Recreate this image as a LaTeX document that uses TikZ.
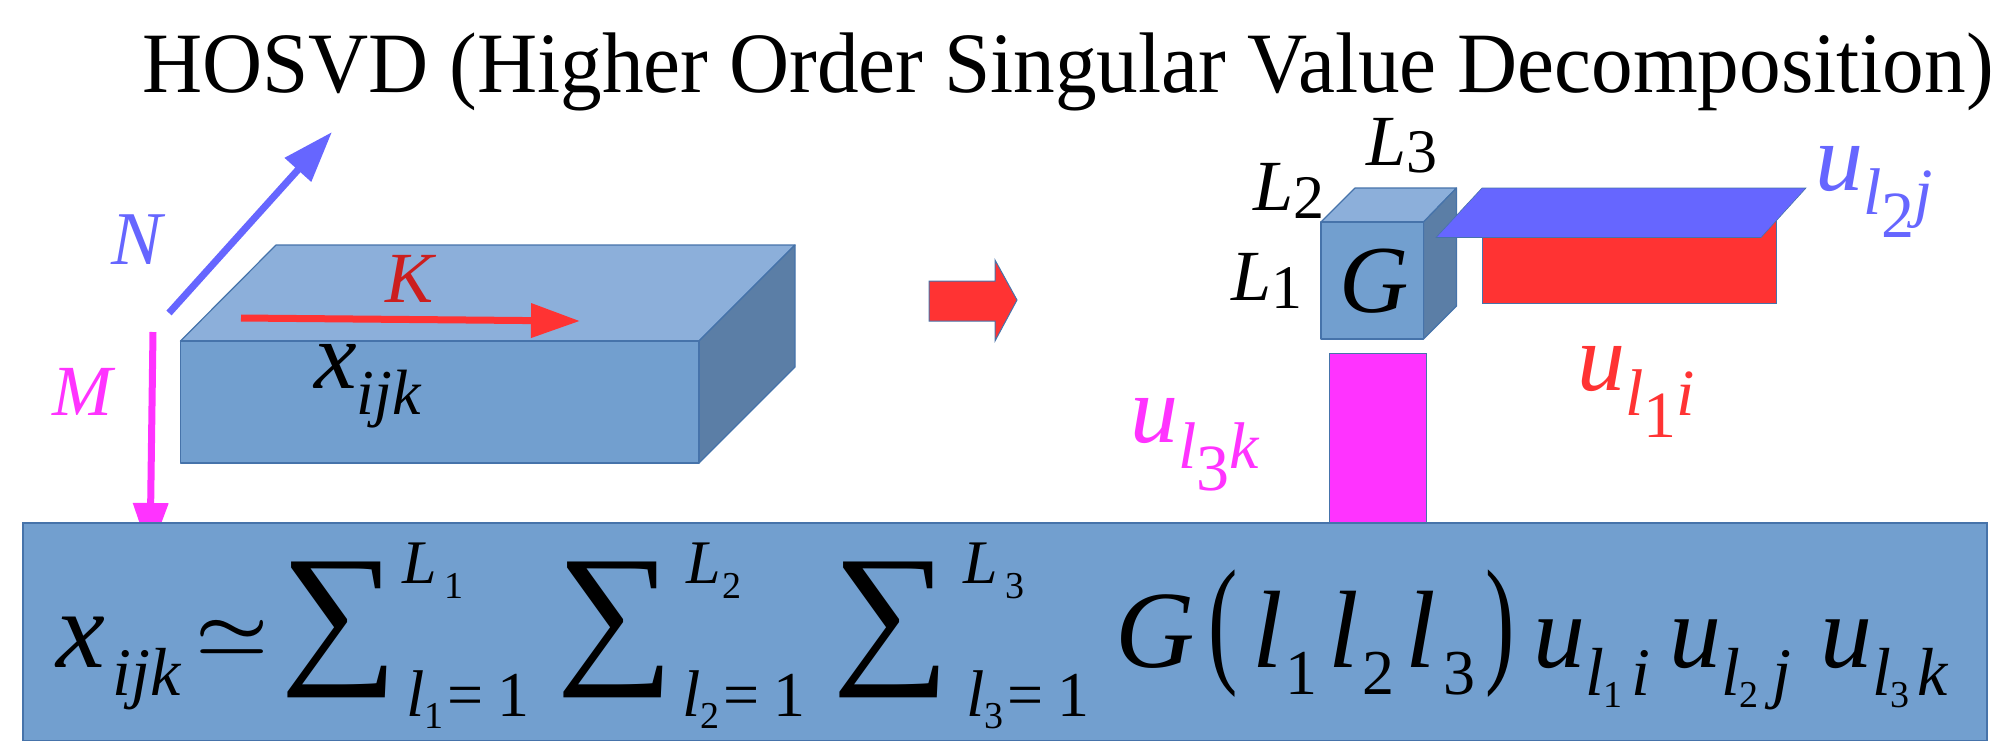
\documentclass[tikz,border=0pt]{standalone}
\usepackage{fontspec}
\setmainfont{Liberation Serif}
\usetikzlibrary{arrows.meta}
\definecolor{front}{RGB}{114,159,207}
\definecolor{topf}{RGB}{140,175,218}
\definecolor{sidef}{RGB}{91,126,166}
\definecolor{edgeb}{RGB}{70,115,170}
\definecolor{vblue}{RGB}{102,102,255}
\definecolor{vred}{RGB}{255,51,51}
\definecolor{vmag}{RGB}{255,51,255}
\definecolor{kred}{RGB}{204,30,30}
\newcommand\fsz[1]{\fontsize{#1}{#1}\selectfont}
\newcommand\rs[3]{\raisebox{#1pt}{\fsz{#2}#3}}
\newcommand\bigsum{\scalebox{1.14}[1.08]{\fsz{145}\upshape ∑}}
\tikzset{
  x=1pt,y=-1pt,
  txt/.style={anchor=base west,inner sep=0pt,outer sep=0pt,font=\itshape},
  face/.style={draw=edgeb,line width=1.2pt,line join=round},
  vecline/.style={line width=7pt},
}
\begin{document}
\begin{tikzpicture}
\useasboundingbox (0,0) rectangle (2005,740);
% title
\node[txt,font=\upshape] (title) at (142,92) {\scalebox{0.968}[1]{\fsz{86}HOSVD (Higher Order Singular Value Decomposition)}};
% big cuboid
\draw[face,fill=topf] (180.5,341) -- (276,245) -- (795,245) -- (699,341) -- cycle;
\draw[face,fill=sidef] (699,341) -- (795,245) -- (795,367) -- (699,463) -- cycle;
\draw[face,fill=front] (180.5,341) rectangle (699,463);
% vectors
\coordinate (nS) at (169,313);
\coordinate (nE) at (332,132);
\coordinate (mS) at (153,332);
\coordinate (mE) at (150,554);
\coordinate (kS) at (241,318);
\coordinate (kE) at (580,321);
\draw[vecline,vblue,-{Triangle[length=51pt,width=34pt]}] (nS) -- (nE);
\draw[vecline,vmag,-{Triangle[length=51pt,width=34pt]}] (mS) -- (mE);
\draw[vecline,vred,-{Triangle[length=49pt,width=33pt]}] (kS) -- (kE);
\node[txt,text=vblue] (labN) at (111,264) {\fsz{76}N};
\node[txt,text=kred] (labK) at (385,302) {\fsz{72}K};
\node[txt,text=vmag] (labM) at (52,415) {\fsz{72}M};
\node[txt] (labx) at (314,388) {\fsz{96}x\rs{-26}{64}{ijk}};
% block arrow
\draw[line width=1pt,draw=edgeb,fill=vred] (929,281) -- (995,281) -- (995,260) -- (1017,300) -- (995,341) -- (995,321) -- (929,321) -- cycle;
% G cube
\draw[face,fill=topf] (1321,222) -- (1355,188) -- (1456.5,188) -- (1423.5,222) -- cycle;
\draw[face,fill=sidef] (1423.5,222) -- (1456.5,188) -- (1456.5,306) -- (1423.5,339) -- cycle;
\draw[face,fill=front] (1321,222) rectangle (1423.5,339);
\node[txt] (labG) at (1339,312) {\fsz{96}G};
\node[txt] (labL1) at (1231,300) {\fsz{72}L\rs{-8}{62}{\upshape 1}};
\node[txt] (labL2) at (1253,210) {\fsz{72}L\rs{-8}{62}{\upshape 2}};
\node[txt] (labL3) at (1366,165) {\fsz{72}L\rs{-7}{62}{\upshape 3}};
% factors
\draw[draw=edgeb,line width=1pt,fill=vred] (1482,220) rectangle (1776,303.5);
\draw[draw=edgeb,line width=.6pt,fill=vblue] (1436,237.5) -- (1761,237.5) -- (1806,188) -- (1482,188) -- cycle;
\draw[draw=edgeb,line width=.6pt,fill=vmag] (1329,353) rectangle (1426,522);
\node[txt,text=vblue] (labU2) at (1815,190) {\fsz{96}u\rs{-24}{66}{l\rs{-23}{66}{\upshape 2}j}};
\node[txt,text=vred] (labU1) at (1577,390) {\fsz{96}u\rs{-25}{66}{l\rs{-22}{66}{\upshape 1}i}};
\node[txt,text=vmag] (labU3) at (1130,442) {\fsz{96}u\rs{-26}{66}{l\rs{-22}{66}{\upshape 3}k}};
% formula box
\node[draw=edgeb,line width=1.5pt,fill=front,minimum width=1964pt,minimum height=218pt,inner sep=0pt,anchor=north west] (formula) at (22,522) {};
\node[txt] (fx) at (56,667) {\fsz{110}x\hspace{8pt}\rs{-28}{68}{ijk}};
\node[anchor=center,inner sep=0pt] (fsim) at (232,637) {\scalebox{8.2}[6.6]{\boldmath$\simeq$}};
\node[anchor=center,inner sep=0pt] (sumA) at (339,629.5) {\bigsum};
\node[anchor=center,inner sep=0pt] (sumB) at (615,629.5) {\bigsum};
\node[anchor=center,inner sep=0pt] (sumC) at (891,629.5) {\bigsum};
\node[txt] (upA) at (402,583) {\fsz{62}L\hspace{8pt}\rs{-15}{38}{\upshape 1}};
\node[txt] (upB) at (686,583) {\fsz{62}L\hspace{2pt}\rs{-15}{38}{\upshape 2}};
\node[txt] (upC) at (963,583) {\fsz{62}L\hspace{8pt}\rs{-15}{38}{\upshape 3}};
\node[txt] (lowA) at (406,716) {\fsz{66}l\rs{-12}{38}{\upshape 1}\hspace{4pt}\rs{0}{64}{\upshape =\hspace{14pt}1}};
\node[txt] (lowB) at (682,716) {\fsz{66}l\rs{-12}{38}{\upshape 2}\hspace{4pt}\rs{0}{64}{\upshape =\hspace{14pt}1}};
\node[txt] (lowC) at (966,716) {\fsz{66}l\rs{-12}{38}{\upshape 3}\hspace{4pt}\rs{0}{64}{\upshape =\hspace{14pt}1}};
\node[txt] (fG) at (1115,667) {\fsz{110}G};
\node[txt,font=\upshape] (lp) at (1208,667) {\fsz{110}\scalebox{.8}[1.28]{(}};
\node[txt] (fl) at (1252,667) {\fsz{110}l\hspace{3pt}\rs{-27}{64}{\upshape 1}\hspace{11pt}l\hspace{3pt}\rs{-27}{64}{\upshape 2}\hspace{11pt}l\hspace{8pt}\rs{-27}{64}{\upshape 3}};
\node[txt,font=\upshape] (rp) at (1485,667) {\fsz{110}\scalebox{.8}[1.28]{)}};
\node[txt] (fuA) at (1533,667) {\fsz{104}u\rs{-28}{68}{l\rs{-12}{38}{\upshape 1}\hspace{9pt}i}};
\node[txt] (fuB) at (1669,667) {\fsz{104}u\rs{-28}{68}{l\rs{-12}{38}{\upshape 2}\hspace{14pt}j}};
\node[txt] (fuC) at (1820,667) {\fsz{104}u\rs{-28}{68}{l\rs{-12}{38}{\upshape 3}\hspace{8pt}k}};
\end{tikzpicture}
\end{document}
